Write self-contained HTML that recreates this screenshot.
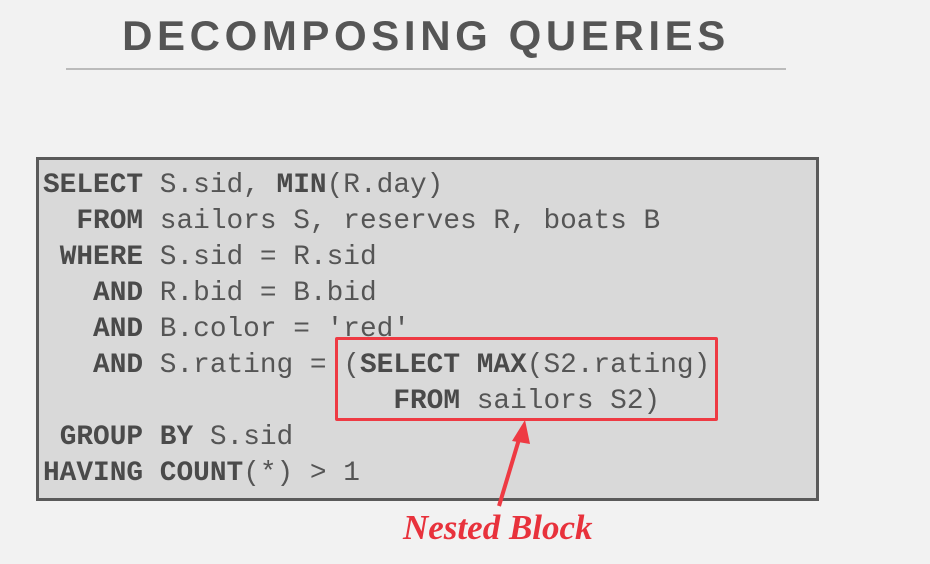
<!DOCTYPE html>
<html><head><style>
html,body{margin:0;padding:0;}
body{width:930px;height:564px;background:#f2f2f2;position:relative;overflow:hidden;font-family:"Liberation Sans",sans-serif;}
.title{position:absolute;left:0;width:852px;top:12px;text-align:center;font-weight:bold;font-size:42px;letter-spacing:4.6px;color:#555;}
.rule{position:absolute;left:66px;top:68px;width:720px;height:2px;background:#bbb;}
.box{position:absolute;left:36px;top:157px;width:777px;height:338px;background:#d9d9d9;border:3px solid #5a5a5a;}
.ln{position:absolute;left:43px;font-family:"Liberation Mono",monospace;font-size:27.8px;line-height:36px;color:#555;white-space:pre;margin:0;}
.ln b{color:#4a4a4a;}
.red{position:absolute;left:335px;top:337px;width:377px;height:78px;border:3px solid #ee3a43;border-radius:2px;}
.lbl{position:absolute;left:403px;top:508px;font-family:"Liberation Serif",serif;font-style:italic;font-weight:bold;font-size:35px;color:#e8323c;}
</style></head><body>
<div class="title">DECOMPOSING QUERIES</div>
<div class="rule"></div>
<div class="box"></div>
<div class="ln" style="top:168px"><b>SELECT</b> S.sid, <b>MIN</b>(R.day)</div>
<div class="ln" style="top:204px">  <b>FROM</b> sailors S, reserves R, boats B</div>
<div class="ln" style="top:240px"> <b>WHERE</b> S.sid = R.sid</div>
<div class="ln" style="top:276px">   <b>AND</b> R.bid = B.bid</div>
<div class="ln" style="top:312px">   <b>AND</b> B.color = 'red'</div>
<div class="ln" style="top:348px">   <b>AND</b> S.rating = (<b>SELECT</b> <b>MAX</b>(S2.rating)</div>
<div class="ln" style="top:384px">                     <b>FROM</b> sailors S2)</div>
<div class="ln" style="top:420px"> <b>GROUP</b> <b>BY</b> S.sid</div>
<div class="ln" style="top:456px"><b>HAVING</b> <b>COUNT</b>(*) &gt; 1</div>
<div class="red"></div>
<svg style="position:absolute;left:0;top:0" width="930" height="564">
<line x1="499" y1="506" x2="520" y2="436" stroke="#ee3a43" stroke-width="4"/>
<polygon points="525,420 512,441 530,444" fill="#ee3a43"/>
</svg>
<div class="lbl">Nested Block</div>
</body></html>
